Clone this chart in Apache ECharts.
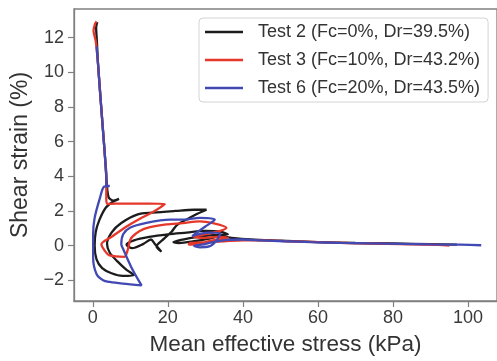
<!DOCTYPE html>
<html>
<head>
<meta charset="utf-8">
<script src="https://cdn.jsdelivr.net/npm/echarts@6/dist/echarts.min.js"></script>
<style>html,body{margin:0;padding:0;background:#fff}#c{width:497px;height:361px}</style>
</head>
<body>
<div id="c"></div>
<script>
// Test 2 (Fc=0%, Dr=39.5%)
const test2P = [97,90,80,70,60,50,42,37,34,31,27,23,21.5,24,28,32,36,34,30,25,20,15,11,9,10.5,13.5,15.5,16.5,18.3,17,19,21,22.5,25,28,30.3,27,22,16,12,7.6,5,3.8,4.5,6.5,9,11,8,5,2.5,1,0.5,0.8,1.8,3.5,5.5,7,5.5,4.2,3.6,3.3,2.6,1.9,1.4,1.1,0.9,1.2];
const test2Strain = [0.05,0.08,0.12,0.15,0.2,0.28,0.35,0.45,0.55,0.4,0.25,0.15,0.2,0.35,0.5,0.6,0.65,0.8,0.85,0.75,0.65,0.5,0.3,0.05,-0.15,0.1,0.35,0.1,-0.35,-0.05,0.4,0.8,1.2,1.5,1.85,2.07,2.07,2.0,1.9,1.8,1.3,0.75,0.1,-0.4,-0.9,-1.4,-1.7,-1.75,-1.6,-1.3,-0.8,0,0.8,1.5,2.2,2.55,2.7,2.6,2.8,4,5,7,9,10.5,11.8,12.6,12.9];
// Test 3 (Fc=10%, Dr=43.2%)
const test3P = [95,90,82,75,68,60,52,46,40,35,30,26,25.5,28,32,36,33,30,27,31,34,35.6,32,28.5,24,19.6,15,12.5,10.5,9.9,9.5,9,8.5,4.5,3.2,2.3,5,9,13,16.5,19.2,15,10,6,4,3.6,3.6,3.3,2.6,1.9,1.4,0.8,0.2,0.6,1.0];
const test3Strain = [0.0,0.05,0.08,0.12,0.15,0.2,0.25,0.3,0.3,0.25,0.2,0.15,0.05,0.1,0.3,0.45,0.5,0.45,0.5,0.7,0.85,1.03,1.3,1.4,1.3,1.22,1.05,0.84,0.5,0.28,-0.1,-0.46,-0.65,-0.57,-0.3,0.07,0.5,1.1,1.6,2.0,2.4,2.42,2.42,2.42,2.4,2.7,4,5,7,9,10.5,11.8,12.4,12.8,12.95];
// Test 6 (Fc=20%, Dr=43.5%)
const test6P = [103.5,98,90,82,74,66,58,51,45,40,36,32,29,27,28.5,31,33,34,31,28,26.5,28,30,32.5,28.5,24.5,20.5,14.3,9.9,8.1,7.6,8.1,10.3,13,8,4.5,2.75,1.0,0.1,0.1,0.5,1.9,3.0,4.5,3.6,3.6,3.3,2.6,1.9,1.4,1.0];
const test6Strain = [0.02,0.05,0.07,0.1,0.13,0.16,0.2,0.25,0.3,0.35,0.33,0.2,0.05,-0.02,-0.1,-0.05,0.3,0.7,0.75,0.65,0.55,0.8,1.1,1.5,1.6,1.5,1.5,1.31,1.03,0.65,0.07,-0.2,-1.26,-2.3,-2.2,-2.1,-2.0,-1.64,-0.7,0.65,1.6,2.74,3.4,3.45,3.4,4,5,7,9,10.5,11.5];

const seriesNames = ['Test 2 (Fc=0%, Dr=39.5%)','Test 3 (Fc=10%, Dr=43.2%)','Test 6 (Fc=20%, Dr=43.5%)'];
const xTicks = [0,20,40,60,80,100];
const yTicks = [-2,0,2,4,6,8,10,12];

function pairs(xs, ys){ return xs.map((x,i)=>[x, ys[i]]); }

const colors = ['#1c1c1c','#e5372a','#4249b3'];
const font = 'Liberation Sans, Arial, sans-serif';
const axisGray = '#808080';
const chart = echarts.init(document.getElementById('c'), null, {renderer:'canvas'});
chart.setOption({
  animation:false,
  backgroundColor:'#fff',
  grid:{left:74, top:9, width:425, height:295, show:true, borderColor:axisGray, borderWidth:1.3, containLabel:false},
  legend:{
    orient:'vertical', left:199, top:18,
    itemWidth:38, itemHeight:16, itemGap:10,
    padding:[5,8,5,6],
    borderColor:'#d4d4d4', borderWidth:1, borderRadius:4,
    backgroundColor:'#fff',
    icon:'path://M0,7 L38,7 L38,9.3 L0,9.3 Z',
    textStyle:{fontFamily:font, fontSize:18, color:'#333', padding:[0,0,0,10]},
    data:seriesNames
  },
  xAxis:{
    type:'value', min:-5, max:107.7,
    name:'Mean effective stress (kPa)', nameLocation:'middle', nameGap:32,
    nameTextStyle:{fontFamily:font, fontSize:22.5, color:'#333'},
    axisLine:{show:true, onZero:false, lineStyle:{color:axisGray, width:1.3}},
    axisTick:{show:true, length:6, lineStyle:{color:axisGray, width:1.2}, customValues:xTicks},
    axisLabel:{fontFamily:font, fontSize:18, color:'#3a3a3a', margin:8, customValues:xTicks},
    splitLine:{show:false}
  },
  yAxis:{
    type:'value', min:-3.2, max:13.66,
    name:'Shear strain (%)', nameLocation:'middle', nameGap:38,
    nameTextStyle:{fontFamily:font, fontSize:23, color:'#333'},
    axisLine:{show:true, onZero:false, lineStyle:{color:axisGray, width:1.3}},
    axisTick:{show:true, length:6, lineStyle:{color:axisGray, width:1.2}, customValues:yTicks},
    axisLabel:{fontFamily:font, fontSize:18, color:'#3a3a3a', margin:10, customValues:yTicks,
      formatter:function(v){ return String(v).replace('-', '\u2212'); }},
    splitLine:{show:false}
  },
  series:[
    {name:seriesNames[0], type:'line', data:pairs(test2P,test2Strain), showSymbol:false, smooth:0.3, lineStyle:{color:colors[0], width:2.3}, itemStyle:{color:colors[0]}},
    {name:seriesNames[1], type:'line', data:pairs(test3P,test3Strain), showSymbol:false, smooth:0.3, lineStyle:{color:colors[1], width:2.3}, itemStyle:{color:colors[1]}},
    {name:seriesNames[2], type:'line', data:pairs(test6P,test6Strain), showSymbol:false, smooth:0.3, lineStyle:{color:colors[2], width:2.3}, itemStyle:{color:colors[2]}}
  ]
});
</script>
</body>
</html>
